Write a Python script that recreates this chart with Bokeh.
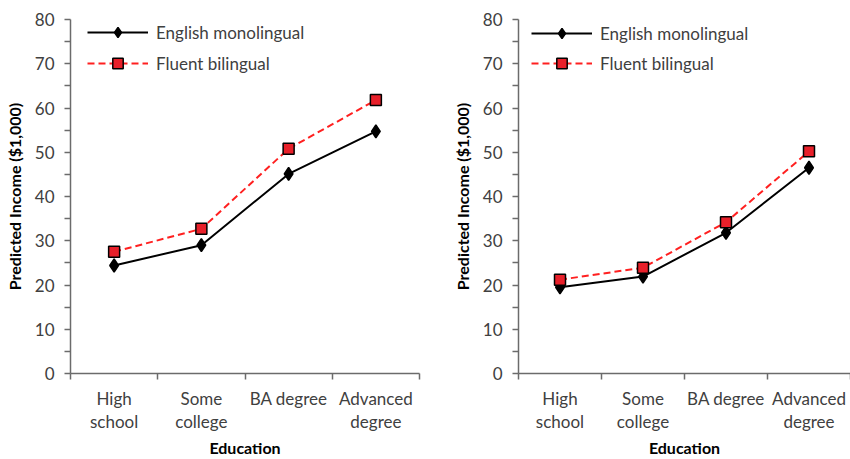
from bokeh.plotting import figure
from bokeh.layouts import row
from bokeh.models import Range1d, FixedTicker, Legend, LegendItem
from bokeh.embed import file_html
from bokeh.resources import INLINE

categories = ["High\nschool", "Some\ncollege", "BA degree", "Advanced\ndegree"]
y_ticks = [0, 10, 20, 30, 40, 50, 60, 70, 80]
y_minor = [5, 15, 25, 35, 45, 55, 65, 75]
series_names = ["English monolingual", "Fluent bilingual"]
left_english = [24.4, 29.0, 45.1, 54.7]
left_fluent = [27.5, 32.7, 50.8, 61.8]
right_english = [19.5, 21.9, 31.8, 46.5]
right_fluent = [21.2, 23.9, 34.2, 50.2]

FONT = "Lato"
AXIS_COLOR = "#6b6b6b"
TEXT_COLOR = "#404040"
RED_LINE = "#FF2020"
RED_FILL = "#E8202A"
H = 459
BOTTOM = 86
TOP_EXTRA = 4
GLYPH_H = 26


def make_panel(english, fluent, width, bl, br, top, leg_x, leg_spacing, leg_up):
    n = len(categories)
    x = [i + 0.5 for i in range(n)]
    frame_h = H - top - BOTTOM
    p = figure(width=width, height=H, output_backend="svg", toolbar_location=None,
               title_location=None,
               x_range=Range1d(0, n), y_range=Range1d(0, 80),
               min_border_left=bl, min_border_right=br,
               min_border_top=top - TOP_EXTRA, min_border_bottom=BOTTOM)
    p.outline_line_color = None
    p.xgrid.visible = False
    p.ygrid.visible = False
    p.background_fill_color = None
    p.border_fill_color = None

    xa = p.xaxis[0]
    xa.ticker = FixedTicker(ticks=x, minor_ticks=list(range(n + 1)))
    xa.major_label_overrides = {xi: c for xi, c in zip(x, categories)}
    xa.major_tick_line_color = None
    xa.minor_tick_in = 0
    xa.minor_tick_out = 6
    xa.minor_tick_line_color = AXIS_COLOR
    xa.minor_tick_line_width = 1.5
    xa.axis_line_color = AXIS_COLOR
    xa.axis_line_width = 1.5
    xa.major_label_text_font = FONT
    xa.major_label_text_font_size = "17px"
    xa.major_label_text_color = TEXT_COLOR
    xa.major_label_text_line_height = 1.1
    xa.major_label_standoff = 8
    xa.axis_label = "Education"
    xa.axis_label_text_font = FONT
    xa.axis_label_text_font_style = "bold"
    xa.axis_label_text_font_size = "16px"
    xa.axis_label_text_color = "black"
    xa.axis_label_standoff = 3

    ya = p.yaxis[0]
    ya.ticker = FixedTicker(ticks=y_ticks, minor_ticks=y_minor)
    ya.major_tick_in = 0
    ya.major_tick_out = 6
    ya.minor_tick_in = 0
    ya.minor_tick_out = 6
    ya.major_tick_line_color = AXIS_COLOR
    ya.minor_tick_line_color = AXIS_COLOR
    ya.major_tick_line_width = 1.5
    ya.minor_tick_line_width = 1.5
    ya.axis_line_color = AXIS_COLOR
    ya.axis_line_width = 1.5
    ya.major_label_text_font = FONT
    ya.major_label_text_font_size = "17px"
    ya.major_label_text_color = TEXT_COLOR
    ya.major_label_standoff = 10
    ya.axis_label = "Predicted Income ($1,000)"
    ya.axis_label_text_font = FONT
    ya.axis_label_text_font_style = "bold"
    ya.axis_label_text_font_size = "16px"
    ya.axis_label_text_color = "black"
    ya.axis_label_standoff = 8

    r1 = p.line(x, english, line_color="black", line_width=2)
    s1 = p.scatter(x, english, marker="diamond", size=13,
                   fill_color="black", line_color="black", line_width=1.5)
    r2 = p.line(x, fluent, line_color=RED_LINE, line_width=2, line_dash="7 4")
    s2 = p.scatter(x, fluent, marker="square", size=11, fill_color=RED_FILL,
                   line_color="black", line_width=1.5)

    leg_h = GLYPH_H + leg_spacing + GLYPH_H
    legend = Legend(items=[LegendItem(label=series_names[0], renderers=[r1, s1]),
                           LegendItem(label=series_names[1], renderers=[r2, s2])],
                    location=(leg_x, frame_h - leg_h + leg_up),
                    border_line_color=None, background_fill_alpha=0,
                    padding=0, margin=0, spacing=leg_spacing,
                    glyph_width=61, glyph_height=GLYPH_H, label_height=GLYPH_H,
                    label_standoff=8, label_text_font=FONT,
                    label_text_font_size="17px", label_text_color=TEXT_COLOR)
    p.add_layout(legend)
    return p


left = make_panel(left_english, left_fluent, width=445, bl=70, br=26, top=20,
                  leg_x=17, leg_spacing=5, leg_up=1)
right = make_panel(right_english, right_fluent, width=405, bl=73, br=0, top=23,
                   leg_x=13, leg_spacing=4, leg_up=3)

layout = row(left, right)
open("out.html", "w").write(file_html(layout, INLINE))
